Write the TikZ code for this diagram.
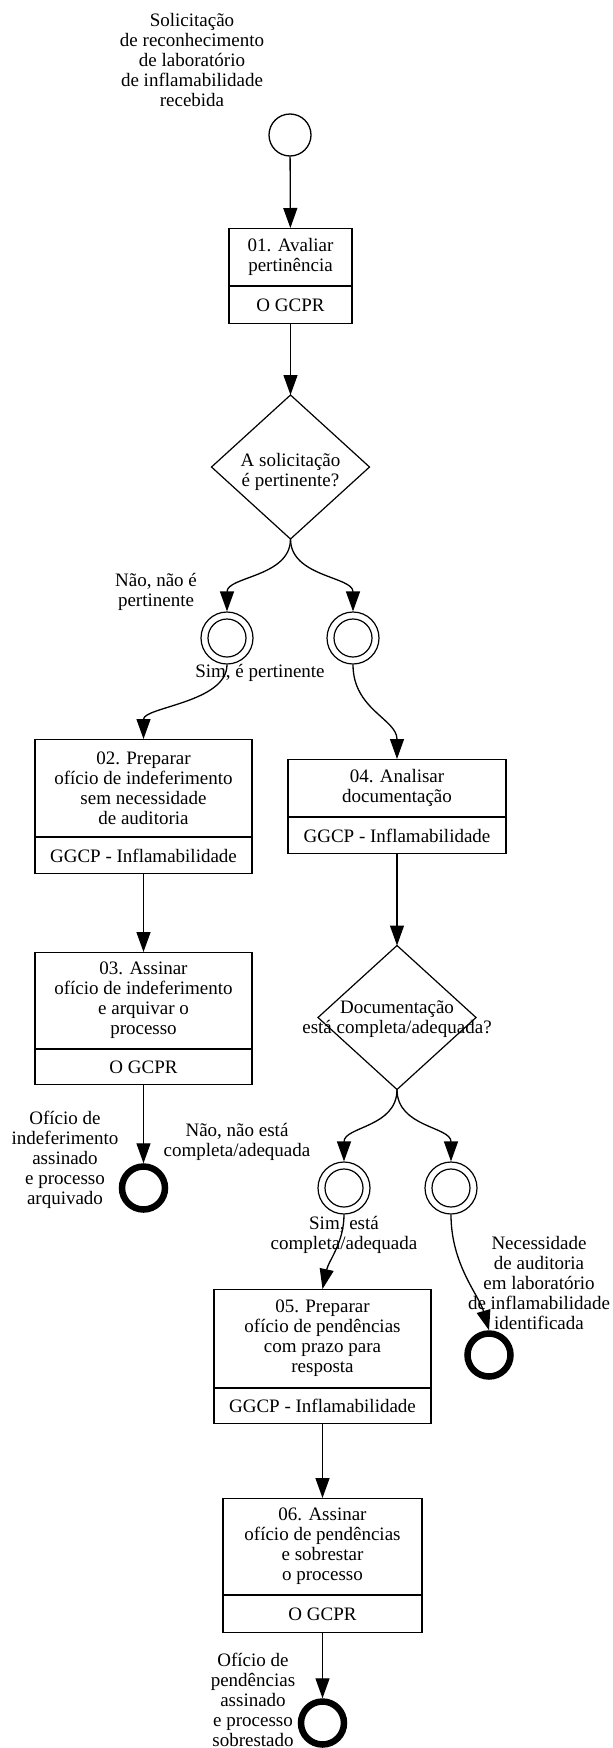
\documentclass[tikz,border=0pt]{standalone}
\usepackage{fontspec}
\setmainfont{Liberation Serif}
\usetikzlibrary{arrows.meta,shapes.geometric}
\begin{document}
\begin{tikzpicture}[x=1pt,y=-1pt,
  every node/.style={font=\fontsize{19}{20}\selectfont},
  lbl/.style={align=center, inner sep=0pt},
  task/.style={draw, line width=1.2pt, align=center, inner sep=0pt, anchor=north},
  arr/.style={line width=1.3pt, -{Triangle[length=20pt,width=14pt]}},
  startev/.style={circle, draw, line width=1.3pt, minimum size=42pt, inner sep=0pt},
  midev/.style={circle, draw, line width=1.2pt, minimum size=52pt, inner sep=0pt,
    path picture={\draw[line width=1.2pt] (path picture bounding box.center) circle[radius=19pt];}},
  endev/.style={circle, draw, line width=6.5pt, minimum size=43pt, inner sep=0pt},
  gate/.style={diamond, draw, line width=1.2pt, minimum width=158pt, minimum height=144pt, inner sep=0pt, outer sep=0pt}
]
\fill[white] (0,0) rectangle (613,1748);
\useasboundingbox (0,0) rectangle (613,1748);

% start
\node[lbl] (sl) at (192,60) {Solicitação\\de reconhecimento\\de laboratório\\de inflamabilidade\\recebida};
\node[startev] (s) at (290,135) {};

% task 01
\node[task, minimum width=123pt, minimum height=57pt] (t1) at (290.5,228) {01. Avaliar\\pertinência};
\node[task, minimum width=123pt, minimum height=37pt] (t1r) at (t1.south) {O GCPR};

% gateway 1
\node[gate] (d1) at (290.5,467) {};
\node[lbl] (d1t) at (290.5,472) {A solicitação\\é pertinente?};

\node[midev] (c1) at (227,638) {};
\node[midev] (c2) at (353,638) {};
\node[lbl] (l1) at (156,592) {Não, não é\\pertinente};
\node[lbl] (l2) at (260,673) {Sim, é pertinente};

% task 02
\node[task, minimum width=217pt, minimum height=97pt] (t2) at (143.5,739) {02. Preparar\\ofício de indeferimento\\sem necessidade\\de auditoria};
\node[task, minimum width=217pt, minimum height=36pt] (t2r) at (t2.south) {GGCP - Inflamabilidade};

% task 03
\node[task, minimum width=217pt, minimum height=96pt] (t3) at (143.5,952) {03. Assinar\\ofício de indeferimento\\e arquivar o\\processo};
\node[task, minimum width=217pt, minimum height=35pt] (t3r) at (t3.south) {O GCPR};

\node[endev] (e1) at (143.5,1188) {};
\node[lbl] (l3) at (65,1160) {Ofício de\\indeferimento\\assinado\\e processo\\arquivado};

% task 04
\node[task, minimum width=218pt, minimum height=57pt] (t4) at (397,759) {04. Analisar\\documentação};
\node[task, minimum width=218pt, minimum height=36pt] (t4r) at (t4.south) {GGCP - Inflamabilidade};

% gateway 2
\node[gate] (d2) at (397,1017.5) {};
\node[lbl] (d2t) at (397,1019) {Documentação\\está completa/adequada?};

\node[midev] (c3) at (344,1188) {};
\node[midev] (c4) at (451,1188) {};
\node[lbl] (l4) at (237,1142) {Não, não está\\completa/adequada};
\node[lbl] (l5) at (344,1235) {Sim, está\\completa/adequada};

\node[endev] (e2) at (489,1355) {};
\node[lbl] (l6) at (539,1283) {Necessidade\\de auditoria\\em laboratório\\de inflamabilidade\\identificada};

% task 05
\node[task, minimum width=217pt, minimum height=98pt] (t5) at (322.5,1289) {05. Preparar\\ofício de pendências\\com prazo para\\resposta};
\node[task, minimum width=217pt, minimum height=35pt] (t5r) at (t5.south) {GGCP - Inflamabilidade};

% task 06
\node[task, minimum width=199pt, minimum height=96pt] (t6) at (322.5,1498) {06. Assinar\\ofício de pendências\\e sobrestar\\o processo};
\node[task, minimum width=199pt, minimum height=37pt] (t6r) at (t6.south) {O GCPR};

\node[endev] (e3) at (322.5,1723) {};
\node[lbl] (l7) at (253,1700) {Ofício de\\pendências\\assinado\\e processo\\sobrestado};

% connectors
\draw[arr] (s) -- (t1);
\draw[arr] (t1r) -- (d1);
\draw[arr] (d1.south) .. controls +(0,38) and +(0,-35) .. (c1.north);
\draw[arr] (d1.south) .. controls +(0,38) and +(0,-35) .. (c2.north);
\draw[arr] (c1.south) .. controls +(0,38) and +(0,-32) .. (t2.north);
\draw[arr] (c2.south) .. controls +(0,45) and +(0,-40) .. (t4.north);
\draw[arr] (t2r) -- (t3);
\draw[arr] (t3r) -- (e1);
\draw[arr] (t4r) -- (d2);
\draw[arr] (d2.south) .. controls +(0,38) and +(0,-35) .. (c3.north);
\draw[arr] (d2.south) .. controls +(0,38) and +(0,-35) .. (c4.north);
\draw[arr] (c3.south) .. controls +(0,28) and +(6,-28) .. (t5.north);
\draw[arr] (c4.south) .. controls +(0,50) and +(-10,-35) .. (e2.north);
\draw[arr] (t5r) -- (t6);
\draw[arr] (t6r) -- (e3);
\end{tikzpicture}
\end{document}
